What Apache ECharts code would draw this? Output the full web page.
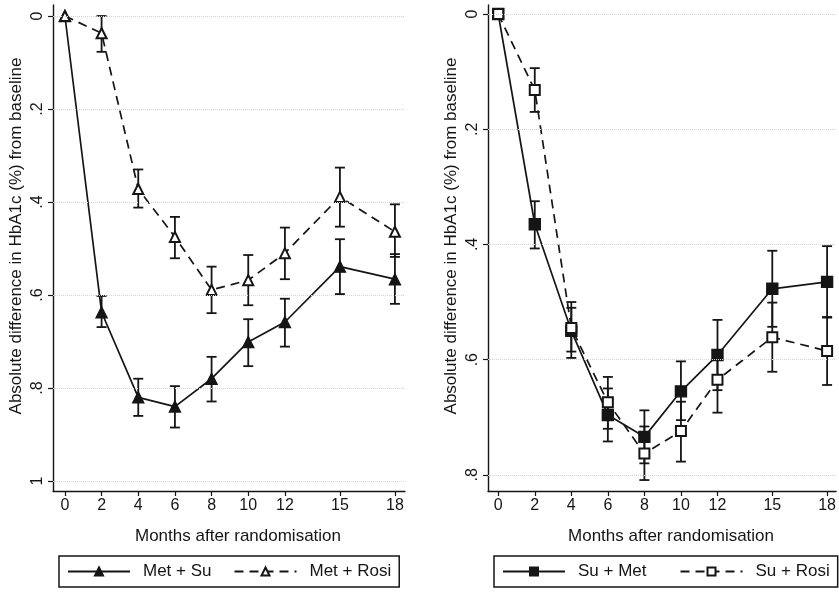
<!DOCTYPE html>
<html>
<head>
<meta charset="utf-8">
<script src="https://cdn.jsdelivr.net/npm/echarts@6/dist/echarts.min.js"></script>
<style>
  html, body { margin: 0; padding: 0; background: #fff; }
  #main { width: 839px; height: 592px; }
</style>
</head>
<body>
<div id="main"></div>
<script>
// months after randomisation
var months = [0, 2, 4, 6, 8, 10, 12, 15, 18];
var yTicksLeft = [0, 0.2, 0.4, 0.6, 0.8, 1];
var yTicksRight = [0, 0.2, 0.4, 0.6, 0.8];

// left panel
var metSu     = [0, 0.637, 0.82, 0.84, 0.78, 0.701, 0.658, 0.539, 0.566];
var metSuLo   = [null, 0.602, 0.78, 0.796, 0.733, 0.652, 0.608, 0.48, 0.512];
var metSuHi   = [null, 0.669, 0.86, 0.885, 0.829, 0.753, 0.711, 0.598, 0.619];
var metRosi   = [0, 0.037, 0.372, 0.475, 0.589, 0.568, 0.51, 0.389, 0.464];
var metRosiLo = [null, 0, 0.33, 0.432, 0.539, 0.514, 0.455, 0.326, 0.405];
var metRosiHi = [null, 0.077, 0.412, 0.521, 0.639, 0.622, 0.566, 0.453, 0.518];

// right panel
var suMet    = [0, 0.365, 0.55, 0.696, 0.734, 0.655, 0.592, 0.477, 0.465];
var suMetLo  = [null, 0.325, 0.51, 0.65, 0.688, 0.603, 0.531, 0.411, 0.403];
var suMetHi  = [null, 0.407, 0.586, 0.742, 0.78, 0.705, 0.653, 0.543, 0.527];
var suRosi   = [0, 0.132, 0.545, 0.674, 0.763, 0.724, 0.635, 0.561, 0.585];
var suRosiLo = [null, 0.094, 0.50, 0.63, 0.716, 0.673, 0.586, 0.501, 0.526];
var suRosiHi = [null, 0.17, 0.597, 0.72, 0.809, 0.777, 0.692, 0.621, 0.644];

var font = "'Liberation Sans', Arial, sans-serif";
var ink = '#151515';

function pts(vals) {
  return months.map(function (m, i) { return [m, vals[i]]; });
}
function bars(lo, hi) {
  var out = [];
  months.forEach(function (m, i) {
    if (lo[i] != null) out.push([m, lo[i], hi[i]]);
  });
  return out;
}

function errorBars(lo, hi, idx) {
  return {
    type: 'custom',
    xAxisIndex: idx, yAxisIndex: idx,
    silent: true,
    z: 3,
    data: bars(lo, hi),
    renderItem: function (params, api) {
      var x = api.value(0);
      var a = api.coord([x, api.value(1)]);
      var b = api.coord([x, api.value(2)]);
      var w = 5;
      var st = { stroke: ink, lineWidth: 1.8 };
      return {
        type: 'group',
        children: [
          { type: 'line', shape: { x1: a[0], y1: a[1], x2: b[0], y2: b[1] }, style: st },
          { type: 'line', shape: { x1: a[0] - w, y1: a[1], x2: a[0] + w, y2: a[1] }, style: st },
          { type: 'line', shape: { x1: b[0] - w, y1: b[1], x2: b[0] + w, y2: b[1] }, style: st }
        ]
      };
    }
  };
}

function lineSeries(name, vals, idx, symbol, dashed, size, gridTicks) {
  var s = {
    name: name,
    type: 'line',
    xAxisIndex: idx, yAxisIndex: idx,
    data: pts(vals),
    symbol: symbol,
    symbolSize: size,
    showAllSymbol: true,
    z: 4,
    lineStyle: { color: ink, width: 1.7, type: dashed ? [9, 6] : 'solid' },
    itemStyle: { color: ink, borderColor: ink, borderWidth: 1.4 },
    emphasis: { disabled: true }
  };
  if (gridTicks) {
    s.markLine = {
      silent: true,
      symbol: 'none',
      label: { show: false },
      lineStyle: { color: '#d4d4d4', width: 1, type: 'dotted' },
      data: gridTicks.map(function (v) { return { yAxis: v }; })
    };
  }
  return s;
}

function yFmt(v) {
  var s = String(Number(v.toFixed(1)));
  return s.replace(/^0\./, '.');
}

function xAxis(idx, min, max) {
  return {
    type: 'value', gridIndex: idx, min: min, max: max,
    name: 'Months after randomisation',
    nameLocation: 'middle', nameGap: 37,
    nameTextStyle: { fontFamily: font, fontSize: 17, color: ink, padding: [0, 0, 0, 18] },
    axisLine: { onZero: false, lineStyle: { color: ink, width: 1.4 } },
    axisTick: { customValues: months, length: 5, lineStyle: { color: ink, width: 1.2 } },
    axisLabel: { customValues: months, fontFamily: font, fontSize: 16, color: ink, margin: 7 },
    splitLine: { show: false }
  };
}

function yAxis(idx, min, max, ticks) {
  return {
    type: 'value', gridIndex: idx, inverse: true, min: min, max: max,
    name: 'Absolute difference in HbA1c (%) from baseline',
    nameLocation: 'middle', nameGap: 28,
    nameTextStyle: { fontFamily: font, fontSize: 17, color: ink, padding: [0, 0, 0, 24] },
    axisLine: { show: true, onZero: false, lineStyle: { color: ink, width: 1.4 } },
    axisTick: { show: true, customValues: ticks, length: 5, lineStyle: { color: ink, width: 1.2 } },
    axisLabel: { customValues: ticks, rotate: 90, fontFamily: font, fontSize: 16, color: ink, margin: 7, formatter: yFmt },
    splitLine: { show: false }
  };
}

function legend(names, left, width, gap) {
  return {
    left: left, top: 556, width: width,
    orient: 'horizontal',
    data: names,
    itemWidth: 62, itemHeight: 10, itemGap: gap,
    padding: [7, 8, 7, 8],
    borderColor: ink, borderWidth: 1.5,
    textStyle: { fontFamily: font, fontSize: 17, color: ink, padding: [0, 0, 0, 8] },
    selectedMode: false
  };
}

var chart = echarts.init(document.getElementById('main'), null, { renderer: 'canvas' });

chart.setOption({
  backgroundColor: '#fff',
  animation: false,
  grid: [
    { left: 53, top: 5, width: 352, height: 486 },
    { left: 488, top: 5, width: 351, height: 486 }
  ],
  xAxis: [xAxis(0, -0.65, 18.55), xAxis(1, -0.56, 18.49)],
  yAxis: [yAxis(0, -0.0237, 1.0215, yTicksLeft), yAxis(1, -0.0156, 0.828, yTicksRight)],
  legend: [
    legend(['Met + Su', 'Met + Rosi'], 59, 340, 22),
    legend(['Su + Met', 'Su + Rosi'], 494, 343, 33)
  ],
  series: [
    lineSeries('Met + Su', metSu, 0, 'triangle', false, 11, yTicksLeft),
    lineSeries('Met + Rosi', metRosi, 0, 'emptyTriangle', true, 10),
    errorBars(metSuLo, metSuHi, 0),
    errorBars(metRosiLo, metRosiHi, 0),
    lineSeries('Su + Met', suMet, 1, 'rect', false, 11, yTicksRight),
    lineSeries('Su + Rosi', suRosi, 1, 'emptyRect', true, 10),
    errorBars(suMetLo, suMetHi, 1),
    errorBars(suRosiLo, suRosiHi, 1)
  ]
});
</script>
</body>
</html>
